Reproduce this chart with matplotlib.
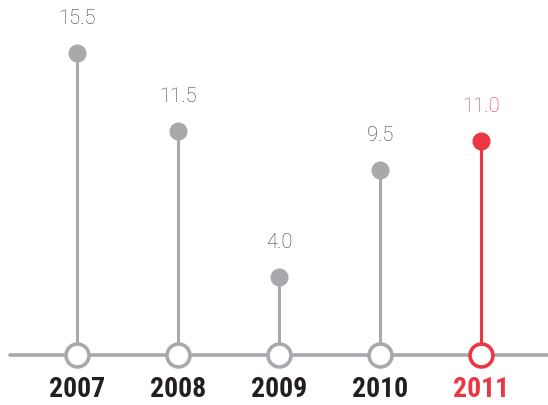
import matplotlib
matplotlib.use("Agg")
import matplotlib.pyplot as plt

years = ["2007", "2008", "2009", "2010", "2011"]
values = [15.5, 11.5, 4.0, 9.5, 11.0]
value_labels = ["15.5", "11.5", "4.0", "9.5", "11.0"]

gray = "#a7a9ac"
red = "#ec3642"
dark = "#231f20"

fig = plt.figure(figsize=(5.48, 4.05), dpi=100)
ax = fig.add_axes([0, 0, 1, 1])
# 101 px per category, 19.48 px per unit, baseline 50 px from bottom
ax.set_xlim(-77 / 101, (548 - 77) / 101)
ax.set_ylim(-50 / 19.48, (405 - 50) / 19.48)
ax.axis("off")

# baseline
ax.plot([-0.665, 4.7], [0, 0], color=gray, lw=2.6, solid_capstyle="round", zorder=1)

for i, (yr, v, lab) in enumerate(zip(years, values, value_labels)):
    c = red if i == len(years) - 1 else gray
    ax.plot([i, i], [0, v], color=c, lw=2.2, zorder=2)
    ax.plot(i, v, "o", ms=12, color=c, mec=c, zorder=3)
    ax.plot(i, 0, "o", ms=16.5, mfc="white", mec=c, mew=2.6, zorder=4)
    ax.text(i, v + 1.75, lab, ha="center", va="center", fontsize=14.5,
            family="Roboto", fontweight="light",
            color=red if c == red else "#3a3a3c")
    ax.text(i, -1.75, yr, ha="center", va="center", fontsize=20,
            family=["Roboto Condensed", "DejaVu Sans Condensed", "Roboto"],
            fontweight="bold", color=red if c == red else dark)

fig.savefig("out.png", dpi=100)
